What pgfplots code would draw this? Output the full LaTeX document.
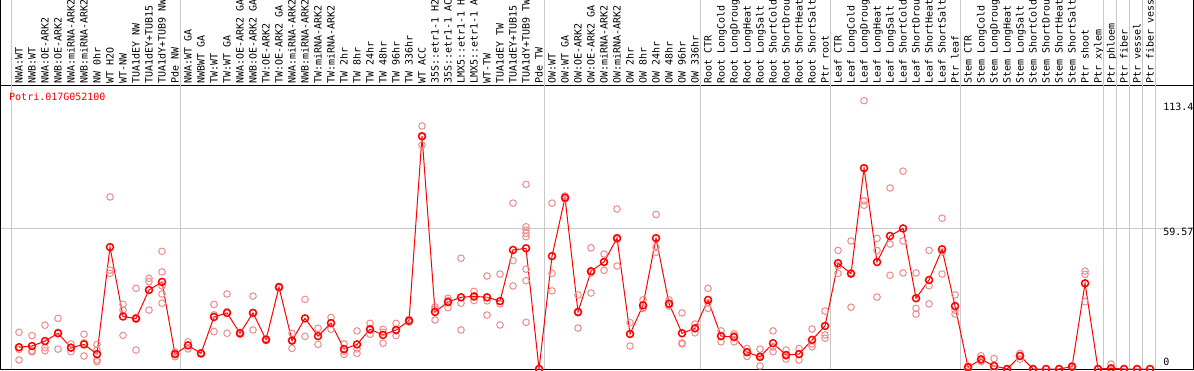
\documentclass[border=0pt]{standalone}
\usepackage{fontspec}
\usepackage{pgfplots}
\pgfplotsset{compat=1.18}
\usepackage{pgfplotstable}
\newfontfamily\chartmono{DejaVu Sans Mono}
\definecolor{repc}{RGB}{236,140,140}
\definecolor{gridc}{RGB}{200,200,200}

\pgfplotstableread{
x y
1 9.2
2 9.7
3 11.8
4 15.1
5 9.0
6 10.4
7 6.3
8 51.5
9 22.2
10 21.3
11 33.4
12 36.8
13 6.3
14 10.0
15 6.6
16 22.0
17 23.7
18 15.1
19 23.7
20 12.4
21 34.6
22 12.0
23 21.4
24 13.9
25 19.4
26 8.4
27 10.4
28 16.8
29 14.4
30 16.5
31 20.4
32 98.4
33 24.1
34 28.3
35 30.3
36 30.7
37 30.3
38 28.7
39 50.3
40 51.0
41 0
42 47.7
43 72.4
44 24.1
45 41.3
46 45.2
47 55.3
48 14.8
49 26.9
50 55.3
51 27.6
52 15.1
53 17.2
54 29.2
55 13.9
56 13.5
57 7.1
58 5.1
59 10.9
60 5.9
61 6.3
62 12.3
63 18.2
64 44.7
65 40.3
66 84.9
67 45.2
68 56.2
69 59.4
70 29.9
71 37.6
72 50.6
73 26.6
74 0.7
75 4.1
76 1.3
77 0
78 5.5
79 0
80 0
81 0
82 1.0
83 36.2
84 0
85 0.3
86 0
87 0
88 0
}\meantab

\pgfplotstableread{
x y
1 15.5
1 8.3
1 3.8
2 14.1
2 7.8
2 7.2
3 18.5
3 9.0
3 7.7
4 21.4
4 15.5
4 8.4
5 10.6
5 9.1
5 7.3
6 14.7
6 11.0
6 5.5
7 10.4
7 8.0
7 3.8
7 3.1
8 72.7
8 41.8
8 40.4
9 27.3
9 24.9
9 14.2
10 34.1
10 21.8
10 8.0
11 38.3
11 36.9
11 24.9
12 49.7
12 41.0
12 35.1
12 31.7
12 27.8
13 7.2
13 6.5
13 5.2
14 11.5
14 10.0
14 8.5
15 6.9
15 6.6
15 6.3
16 27.3
16 22.9
16 15.8
17 31.7
17 24.3
17 15.1
18 15.5
18 15.1
18 14.7
19 30.8
19 23.8
19 16.5
20 12.8
20 12.4
20 12.0
21 34.9
21 34.6
21 34.3
22 15.1
22 12.2
22 8.7
23 29.4
23 13.8
24 17.2
24 10.4
25 21.8
25 16.8
26 10.6
26 7.6
26 6.2
27 16.1
27 8.5
27 6.6
28 19.3
28 16.4
28 14.7
29 16.8
29 15.5
29 10.9
30 19.3
30 16.1
30 14.1
31 21.0
31 20.4
31 19.8
32 102.7
32 98.0
32 94.6
33 26.3
33 25.3
33 20.7
34 29.9
34 29.0
34 25.9
35 46.8
35 27.8
35 16.5
36 32.8
36 30.4
36 28.9
37 39.3
37 28.8
37 22.8
38 40.1
38 27.5
38 18.6
39 70.1
39 45.8
39 35.1
40 78.0
40 60.1
40 58.7
40 57.3
40 55.9
40 42.2
40 37.3
40 19.7
41 0
41 0
41 0
42 70.1
42 40.4
42 33.0
43 73.1
43 72.4
43 71.8
44 31.3
44 23.7
44 17.3
45 51.2
45 40.6
45 32.1
46 48.6
46 45.3
46 41.7
47 67.6
47 54.8
47 43.5
48 19.6
48 14.8
48 9.7
49 29.2
49 25.9
49 25.6
50 65.3
50 51.3
50 49.3
51 29.2
51 27.0
51 26.6
52 23.7
52 11.0
52 10.6
53 19.0
53 17.2
53 15.3
54 34.1
54 27.9
54 25.6
55 16.1
55 14.1
55 11.5
56 14.9
56 14.1
56 11.5
57 8.7
57 7.3
57 5.3
58 8.4
58 5.6
58 1.3
59 16.1
59 9.3
59 7.3
60 8.0
60 5.5
60 4.2
61 8.7
61 6.4
61 3.8
62 16.9
62 10.6
62 9.4
63 24.5
63 14.4
63 13.0
64 50.1
64 43.6
64 40.4
65 54.1
65 40.7
65 26.1
66 113.4
66 71.0
66 69.2
67 55.2
67 50.1
67 30.4
68 76.5
68 52.8
68 39.6
69 83.6
69 54.1
69 40.6
70 40.6
70 25.6
70 23.2
71 50.1
71 35.2
71 27.5
72 63.7
72 49.4
72 40.1
73 31.3
73 24.9
73 23.2
74 1.3
74 0.8
74 0
75 5.6
75 3.6
75 3.1
76 4.4
76 0
76 0
77 0
77 0
77 0
78 6.6
78 5.8
78 4.1
79 0
80 0
81 0
82 1.4
82 0.8
82 0.8
83 41.4
83 40.0
83 28.4
84 0
85 2.1
85 0
86 0
87 0
88 0
}\reptab

\begin{document}
\begin{tikzpicture}
\useasboundingbox (0,0) rectangle (1194pt,370pt);
\begin{axis}[
  at={(1pt,1pt)}, anchor=south west,
  width=1192pt, height=284pt, scale only axis,
  xmin=-0.3846, xmax=91.308, ymin=0, ymax=120,
  axis line style={line width=1pt},
  xtick={1,...,88},
  xticklabel pos=upper,
  major tick length=0pt,
  xticklabels={NWA:WT,NWB:WT,NWA:OE-ARK2,NWB:OE-ARK2,NWA:miRNA-ARK2,NWB:miRNA-ARK2,NW 0hr,WT H2O,WT-NW,TUA1dEY NW,TUA1dEY+TUB15,TUA1dY+TUB9 NW,Pde NW,NWA:WT GA,NWBWT GA,TW:WT,TW:WT GA,NWA:OE-ARK2 GA,NWB:OE-ARK2 GA,TW:OE-ARK2,TW:OE-ARK2 GA,NWA:miRNA-ARK2,NWB:miRNA-ARK2,TW:miRNA-ARK2,TW:miRNA-ARK2,TW 2hr,TW 8hr,TW 24hr,TW 48hr,TW 96hr,TW 336hr,WT ACC,35S::etr1-1 H2,35S::etr1-1 AC,LMX5::etr1-1 H,LMX5::etr1-1 A,WT-TW,TUA1dEY TW,TUA1dEY+TUB15,TUA1dY+TUB9 TW,Pde TW,OW:WT,OW:WT GA,OW:OE-ARK2,OW:OE-ARK2 GA,OW:miRNA-ARK2,OW:miRNA-ARK2,OW 2hr,OW 8hr,OW 24hr,OW 48hr,OW 96hr,OW 336hr,Root CTR,Root LongCold,Root LongDroug,Root LongHeat,Root LongSalt,Root ShortCold,Root ShortDrou,Root ShortHeat,Root ShortSalt,Ptr root,Leaf CTR,Leaf LongCold,Leaf LongDroug,Leaf LongHeat,Leaf LongSalt,Leaf ShortCold,Leaf ShortDrou,Leaf ShortHeat,Leaf ShortSalt,Ptr leaf,Stem CTR,Stem LongCold,Stem LongDroug,Stem LongHeat,Stem LongSalt,Stem ShortCold,Stem ShortDrou,Stem ShortHeat,Stem ShortSalt,Ptr shoot,Ptr xylem,Ptr phloem,Ptr fiber,Ptr vessel,Ptr fiber vess},
  xticklabel style={rotate=90, anchor=west, font=\chartmono\fontsize{10}{10}\selectfont, inner xsep=1.5pt, inner ysep=0pt, text height=7.3pt, text depth=0pt},
  extra x ticks={0.4,13.4,41.4,53.4,63.4,73.4,84.4,85.4,86.4,87.4,88.4},
  extra x tick labels={},
  extra x tick style={xmajorgrids=true, major grid style={gridc, line width=1pt}},
  ytick={59.57}, yticklabels={},
  ymajorgrids, y grid style={gridc, line width=1pt},
  after end axis/.code={
    \foreach \gx in {0.4,13.4,41.4,53.4,63.4,73.4,84.4,85.4,86.4,87.4,88.4} {
      \draw[gridc, line width=1pt] (axis cs:\gx,120) -- (axis cs:\gx,156);
    }
    \draw[black, line width=1pt] (rel axis cs:0,1) -- ++(0pt,86pt);
    \draw[black, line width=1pt] (rel axis cs:1,1) -- ++(0pt,86pt);
  },
]
\addplot[only marks, mark=o, mark size=3.3pt, color=repc, mark options={line width=1pt}] table {\reptab};
\addplot[red, line width=1pt, mark=o, mark size=3.5pt, mark options={line width=1.5pt}] table {\meantab};
\node[anchor=north west, inner sep=0pt, red, font=\chartmono\fontsize{10}{10}\selectfont, text height=7.3pt, text depth=0pt, xshift=8pt, yshift=-8pt] at (rel axis cs:0,1) {Potri.017G052100};
\node[anchor=north west, inner sep=0pt, font=\chartmono\fontsize{10}{10}\selectfont, text height=7.3pt, text depth=0pt, yshift=-2.5pt] at (axis cs:89,113.4) {113.4};
\node[anchor=north west, inner sep=0pt, font=\chartmono\fontsize{10}{10}\selectfont, text height=7.3pt, text depth=0pt] at (axis cs:89,59.57) {59.57};
\node[anchor=south west, inner sep=0pt, font=\chartmono\fontsize{10}{10}\selectfont, text height=7.3pt, text depth=0pt, yshift=3pt] at (axis cs:89,0) {0};
\end{axis}
\end{tikzpicture}
\end{document}
